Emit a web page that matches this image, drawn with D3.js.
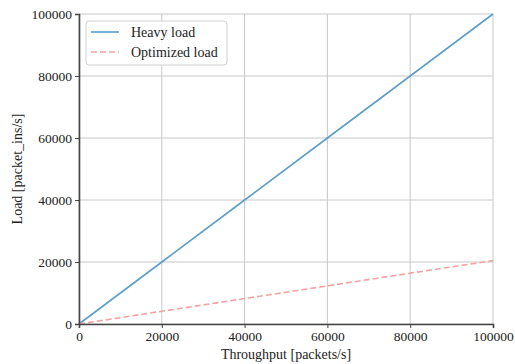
<!DOCTYPE html>
<html>
<head>
<meta charset="utf-8">
<script src="https://cdn.jsdelivr.net/npm/d3@7"></script>
<style>
  html, body { margin: 0; padding: 0; background: #fff; }
  svg { display: block; }
  text { font-family: "Liberation Serif", "DejaVu Serif", serif; fill: #222; }
</style>
</head>
<body>
<svg id="chart" width="515" height="364"></svg>
<script>
// Data
const throughput = [0, 20000, 40000, 60000, 80000, 100000];
const heavyLoad = [0, 20000, 40000, 60000, 80000, 100000];
const optimizedLoad = [0, 4100, 8200, 12300, 16400, 20450];
const xTicks = [0, 20000, 40000, 60000, 80000, 100000];
const yTicks = [0, 20000, 40000, 60000, 80000, 100000];
const seriesNames = ['Heavy load', 'Optimized load'];

const svg = d3.select('#chart');
const margin = { left: 79, right: 22, top: 14, bottom: 40 };
const width = 515, height = 364;
const serif = '"Liberation Serif", "DejaVu Serif", serif';

const x = d3.scaleLinear().domain([0, 100000])
  .range([margin.left, width - margin.right]);
const y = d3.scaleLinear().domain([0, 100000])
  .range([height - margin.bottom, margin.top]);

// Grid
const grid = svg.append('g');
grid.selectAll('line.vx').data(xTicks).enter().append('line')
  .attr('x1', d => x(d)).attr('x2', d => x(d))
  .attr('y1', y(0)).attr('y2', y(100000))
  .attr('stroke', '#c8c8c8').attr('stroke-width', 1);
grid.selectAll('line.hy').data(yTicks).enter().append('line')
  .attr('x1', x(0)).attr('x2', x(100000))
  .attr('y1', d => y(d)).attr('y2', d => y(d))
  .attr('stroke', '#c8c8c8').attr('stroke-width', 1);

// Lines
const line = (vals) => d3.line()
  .x((d, i) => x(throughput[i]))
  .y(d => y(d))(vals);

svg.append('path')
  .attr('d', line(heavyLoad))
  .attr('fill', 'none')
  .attr('stroke', '#5b9fcb')
  .attr('stroke-width', 1.6);

svg.append('path')
  .attr('d', line(optimizedLoad))
  .attr('fill', 'none')
  .attr('stroke', '#f0a3a3')
  .attr('stroke-width', 1.6)
  .attr('stroke-dasharray', '6,3');

// Axes
const xAxis = svg.append('g')
  .attr('transform', `translate(0,${y(0)})`)
  .call(d3.axisBottom(x).tickValues(xTicks).tickFormat(d3.format('d')).tickSize(4).tickPadding(3));
const yAxis = svg.append('g')
  .attr('transform', `translate(${x(0)},0)`)
  .call(d3.axisLeft(y).tickValues(yTicks).tickFormat(d3.format('d')).tickSize(4).tickPadding(3));

[xAxis, yAxis].forEach(a => {
  a.select('.domain').attr('stroke', '#444').attr('stroke-width', 1.6);
  a.selectAll('.tick line').attr('stroke', '#444').attr('stroke-width', 1);
  a.selectAll('.tick text').attr('font-size', 13.5)
    .attr('font-family', serif).attr('fill', '#222');
});

// Axis labels
svg.append('text')
  .attr('x', (x(0) + x(100000)) / 2).attr('y', 359)
  .attr('text-anchor', 'middle').attr('font-size', 14)
  .text('Throughput [packets/s]');
svg.append('text')
  .attr('transform', `translate(22,${(y(0) + y(100000)) / 2}) rotate(-90)`)
  .attr('text-anchor', 'middle').attr('font-size', 14)
  .text('Load [packet_ins/s]');

// Legend
const legend = svg.append('g').attr('transform', 'translate(86,21)');
legend.append('rect')
  .attr('width', 141).attr('height', 44).attr('rx', 3)
  .attr('fill', '#fff').attr('fill-opacity', 0.85)
  .attr('stroke', '#d0d0d0').attr('stroke-width', 1);
const legendStyles = [
  { stroke: '#5b9fcb', dash: null },
  { stroke: '#f0a3a3', dash: '6,3' }
];
seriesNames.forEach((name, i) => {
  const gy = 11 + i * 20;
  legend.append('line')
    .attr('x1', 5).attr('x2', 33).attr('y1', gy).attr('y2', gy)
    .attr('stroke', legendStyles[i].stroke).attr('stroke-width', 1.6)
    .attr('stroke-dasharray', legendStyles[i].dash);
  legend.append('text')
    .attr('x', 45).attr('y', gy + 4.5)
    .attr('font-size', 14)
    .text(name);
});
</script>
</body>
</html>
